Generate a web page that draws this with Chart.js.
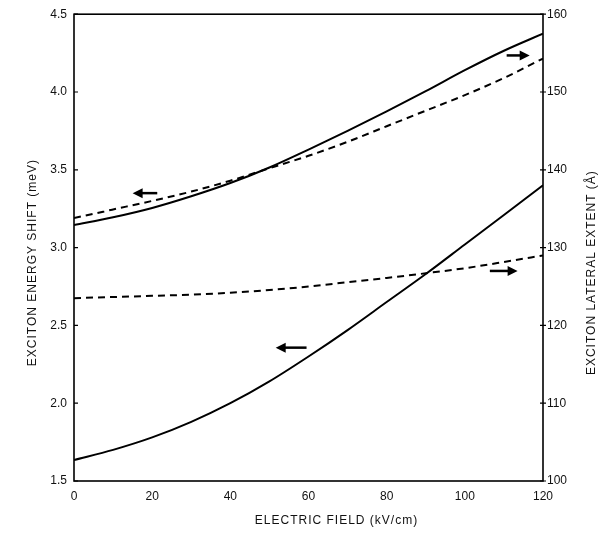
<!DOCTYPE html>
<html>
<head>
<meta charset="utf-8">
<script src="https://cdn.jsdelivr.net/npm/chart.js@4.4.0/dist/chart.umd.min.js"></script>
<style>
  html, body { margin: 0; padding: 0; background: #fff; }
  #wrap { width: 611px; height: 541px; }
</style>
</head>
<body>
<div id="wrap"><canvas id="chart"></canvas></div>
<script>
// electric field (kV/cm)
const fieldKV = [0, 10, 20, 30, 40, 50, 60, 70, 80, 90, 100, 110, 120];

// upper pair
const energyDashed = [3.19, 3.245, 3.30, 3.36, 3.43, 3.51, 3.59, 3.68, 3.78, 3.88, 3.98, 4.09, 4.215]; // meV
const extentSolid = [132.9, 133.9, 135.1, 136.6, 138.3, 140.3, 142.6, 145.0, 147.5, 150.1, 152.8, 155.3, 157.5]; // Å

// lower pair
const energySolid = [1.635, 1.70, 1.78, 1.88, 2.00, 2.14, 2.30, 2.47, 2.65, 2.83, 3.02, 3.21, 3.40]; // meV
const extentDashed = [123.5, 123.65, 123.8, 123.95, 124.2, 124.55, 125.0, 125.55, 126.1, 126.7, 127.35, 128.15, 129.0]; // Å

const fieldTicks = [0, 20, 40, 60, 80, 100, 120];
const energyTicks = [1.5, 2.0, 2.5, 3.0, 3.5, 4.0, 4.5];
const extentTicks = [100, 110, 120, 130, 140, 150, 160];

const xTitle = 'ELECTRIC FIELD (kV/cm)';
const yTitle = 'EXCITON ENERGY SHIFT (meV)';
const y1Title = 'EXCITON LATERAL EXTENT (Å)';

// arrows telling which axis a curve belongs to (data units)
const arrows = [
    { from: 21.3, to: 15.0, at: 3.35, axis: 'y' },
    { from: 110.7, to: 116.6, at: 154.7, axis: 'y1' },
    { from: 59.5, to: 51.6, at: 2.357, axis: 'y' },
    { from: 106.4, to: 113.5, at: 127.0, axis: 'y1' },
];

const FONT = '"Liberation Sans", Arial, sans-serif';

const pts = (ys) => fieldKV.map((x, i) => ({ x, y: ys[i] }));

const lineSet = (data, axis, dashed) => ({
    data: pts(data),
    yAxisID: axis,
    borderColor: '#000',
    borderWidth: 2,
    borderDash: dashed ? [7, 5] : [],
    pointRadius: 0,
    fill: false,
    cubicInterpolationMode: 'monotone',
});

const framePlugin = {
    id: 'frame',
    afterDraw(chart) {
        const { ctx, chartArea: a, scales } = chart;
        ctx.save();
        ctx.strokeStyle = '#000';
        ctx.lineWidth = 1.6;
        ctx.strokeRect(a.left, a.top, a.right - a.left, a.bottom - a.top);

        // small tick stubs
        ctx.lineWidth = 1.2;
        ctx.beginPath();
        energyTicks.forEach(v => {
            const y = scales.y.getPixelForValue(v);
            ctx.moveTo(a.left, y);
            ctx.lineTo(a.left + 4, y);
        });
        extentTicks.forEach(v => {
            const y = scales.y1.getPixelForValue(v);
            ctx.moveTo(a.right - 3, y);
            ctx.lineTo(a.right + 3, y);
        });
        ctx.stroke();

        // arrows
        ctx.fillStyle = '#000';
        arrows.forEach(ar => {
            const s = scales[ar.axis];
            const x1 = scales.x.getPixelForValue(ar.from);
            const x2 = scales.x.getPixelForValue(ar.to);
            const y = s.getPixelForValue(ar.at);
            const dir = Math.sign(x2 - x1);
            ctx.lineWidth = 2.5;
            ctx.beginPath();
            ctx.moveTo(x1, y);
            ctx.lineTo(x2 - dir * 6, y);
            ctx.stroke();
            ctx.beginPath();
            ctx.moveTo(x2, y);
            ctx.lineTo(x2 - dir * 10, y - 5);
            ctx.lineTo(x2 - dir * 10, y + 5);
            ctx.closePath();
            ctx.fill();
        });

        // axis titles
        ctx.fillStyle = '#111';
        ctx.font = '12px ' + FONT;
        ctx.letterSpacing = '1px';
        ctx.textAlign = 'center';
        ctx.textBaseline = 'middle';
        ctx.fillText(xTitle, (a.left + a.right) / 2 + 28, a.bottom + 40);

        ctx.save();
        ctx.translate(33, (a.top + a.bottom) / 2 + 15);
        ctx.rotate(-Math.PI / 2);
        ctx.fillText(yTitle, 0, 0);
        ctx.restore();

        ctx.save();
        ctx.translate(a.right + 49, (a.top + a.bottom) / 2 + 25);
        ctx.rotate(-Math.PI / 2);
        ctx.fillText(y1Title, 0, 0);
        ctx.restore();
        ctx.restore();
    }
};

new Chart(document.getElementById('chart'), {
    type: 'line',
    data: {
        datasets: [
            lineSet(energyDashed, 'y', true),
            lineSet(extentSolid, 'y1', false),
            lineSet(energySolid, 'y', false),
            lineSet(extentDashed, 'y1', true),
        ],
    },
    options: {
        responsive: true,
        maintainAspectRatio: false,
        animation: false,
        layout: { padding: { top: 14, left: 0, right: 0, bottom: 0 } },
        plugins: {
            legend: { display: false },
            tooltip: { enabled: false },
        },
        scales: {
            x: {
                type: 'linear',
                min: 0,
                max: 120,
                afterBuildTicks: (s) => { s.ticks = fieldTicks.map(v => ({ value: v })); },
                afterFit: (s) => { s.height = 60; },
                grid: { display: false, drawTicks: false },
                border: { display: false },
                ticks: { color: '#111', font: { family: FONT, size: 12 }, padding: 8, maxRotation: 0 },
            },
            y: {
                position: 'left',
                min: 1.5,
                max: 4.5,
                afterBuildTicks: (s) => { s.ticks = energyTicks.map(v => ({ value: v })); },
                afterFit: (s) => { s.width = 74; },
                grid: { display: false, drawTicks: false },
                border: { display: false },
                ticks: { color: '#111', font: { family: FONT, size: 12 }, padding: 7, callback: v => v.toFixed(1) },
            },
            y1: {
                position: 'right',
                min: 100,
                max: 160,
                afterBuildTicks: (s) => { s.ticks = extentTicks.map(v => ({ value: v })); },
                afterFit: (s) => { s.width = 68; },
                grid: { display: false, drawTicks: false },
                border: { display: false },
                ticks: { color: '#111', font: { family: FONT, size: 12 }, padding: 4 },
            },
        },
    },
    plugins: [framePlugin],
});
</script>
</body>
</html>
